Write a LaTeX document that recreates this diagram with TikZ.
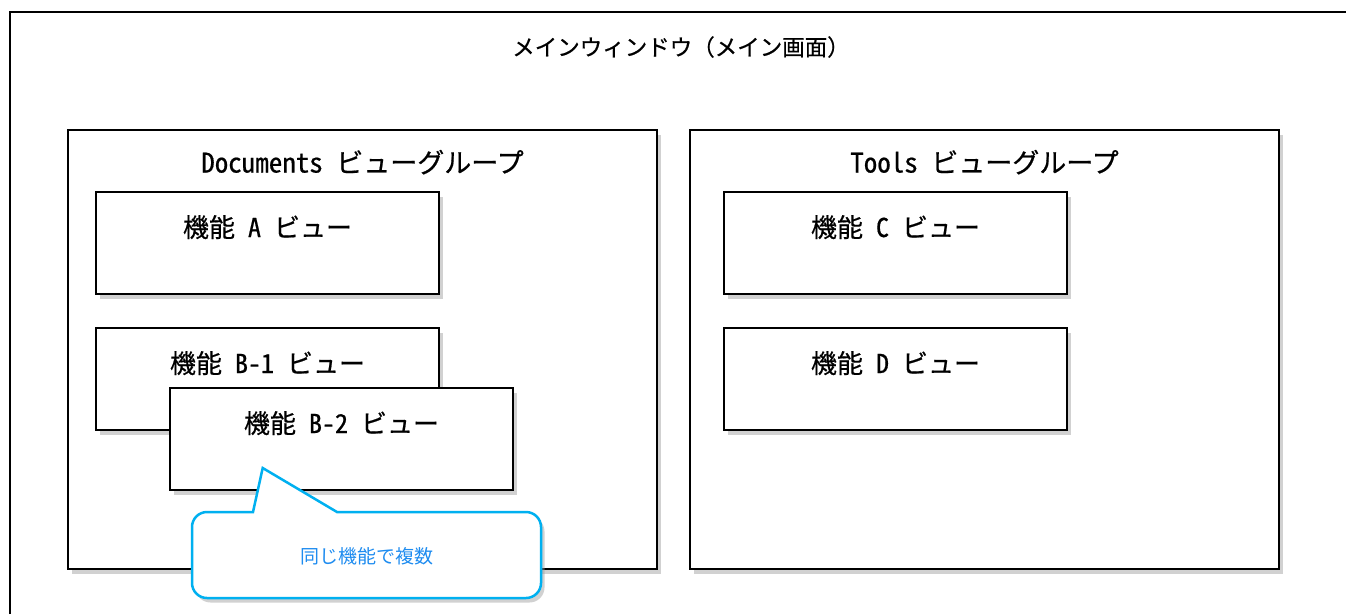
\documentclass[tikz,border=0pt]{standalone}
\usepackage{fontspec}
\setmainfont{Noto Sans CJK JP}[FakeBold=0.6]
\newfontfamily\lat{Noto Sans CJK JP}[RawFeature=+hwid, FakeBold=0.6]
\newfontfamily\notefont{Noto Sans CJK JP}
\usetikzlibrary{shadows}
\definecolor{callblue}{HTML}{00B0F0}
\definecolor{calltext}{HTML}{1E8CF0}
\newcommand{\hs}{\hspace{.5em}}
\tikzset{
  shad/.style={drop shadow={shadow xshift=3.5pt, shadow yshift=-4.5pt, fill=black!40, opacity=.45}},
  winline/.style={draw=black, line width=2pt},
  groupbox/.style={draw=black, line width=1.7pt, fill=white, shad, inner sep=0pt, minimum width=589pt, minimum height=439pt},
  viewbox/.style={draw=black, line width=1.7pt, fill=white, shad, inner sep=0pt, minimum width=343pt, minimum height=102pt},
  grouplabel/.style={font=\fontsize{27}{32}\selectfont, inner sep=0pt, anchor=center},
  viewlabel/.style={font=\fontsize{26}{31}\selectfont, inner sep=0pt, anchor=center},
  titlelabel/.style={font=\fontsize{22.5}{27}\selectfont, inner sep=0pt},
  calloutline/.style={draw=callblue, line width=2.5pt, fill=white, shad, line join=miter},
  callouttext/.style={font=\notefont\fontsize{19}{23}\selectfont, text=calltext, inner sep=0pt},
}
\begin{document}
\begin{tikzpicture}[x=1pt, y=-1pt]
\useasboundingbox (0,0) rectangle (1346,614);
% main window
\coordinate (wbl) at (10,614);
\coordinate (wtl) at (10,12);
\coordinate (wtr) at (1346,12);
\draw[winline] (wbl) -- (wtl) -- (wtr);
\node[titlelabel] (title) at (681,47) {メインウィンドウ（メイン画面）};
% groups
\node[groupbox] (docs) at (362.5,349.5) {};
\node[grouplabel] (docslabel) at ([yshift=-33pt]docs.north) {{\lat Documents\hs}ビューグループ};
\node[groupbox] (tools) at (984.5,349.5) {};
\node[grouplabel] (toolslabel) at ([yshift=-33pt]tools.north) {{\lat Tools\hs}ビューグループ};
% views
\node[viewbox] (va) at (267.5,243) {};
\node[viewlabel] (valabel) at ([yshift=-36pt]va.north) {機能\hs{\lat A}\hs ビュー};
\node[viewbox] (vb1) at (267.5,379) {};
\node[viewlabel] (vb1label) at ([yshift=-36pt]vb1.north) {機能\hs{\lat B-1}\hs ビュー};
\node[viewbox] (vb2) at (341.5,439) {};
\node[viewlabel] (vb2label) at ([yshift=-36pt]vb2.north) {機能\hs{\lat B-2}\hs ビュー};
\node[viewbox] (vc) at (895.5,243) {};
\node[viewlabel] (vclabel) at ([yshift=-36pt]vc.north) {機能\hs{\lat C}\hs ビュー};
\node[viewbox] (vd) at (895.5,379) {};
\node[viewlabel] (vdlabel) at ([yshift=-36pt]vd.north) {機能\hs{\lat D}\hs ビュー};
% callout
\coordinate (tip) at (262.7,468);
\coordinate (cbr) at (337,512);
\coordinate (cbl) at (253,512);
\path[calloutline] (tip) -- (cbr) -- (526,512) arc[start angle=-90, end angle=0, radius=15]
  -- (541,583) arc[start angle=0, end angle=90, radius=15]
  -- (207,598) arc[start angle=90, end angle=180, radius=15]
  -- (192,527) arc[start angle=180, end angle=270, radius=15]
  -- (cbl) -- cycle;
\node[callouttext] (note) at (366.5,556) {同じ機能で複数};
\end{tikzpicture}
\end{document}
